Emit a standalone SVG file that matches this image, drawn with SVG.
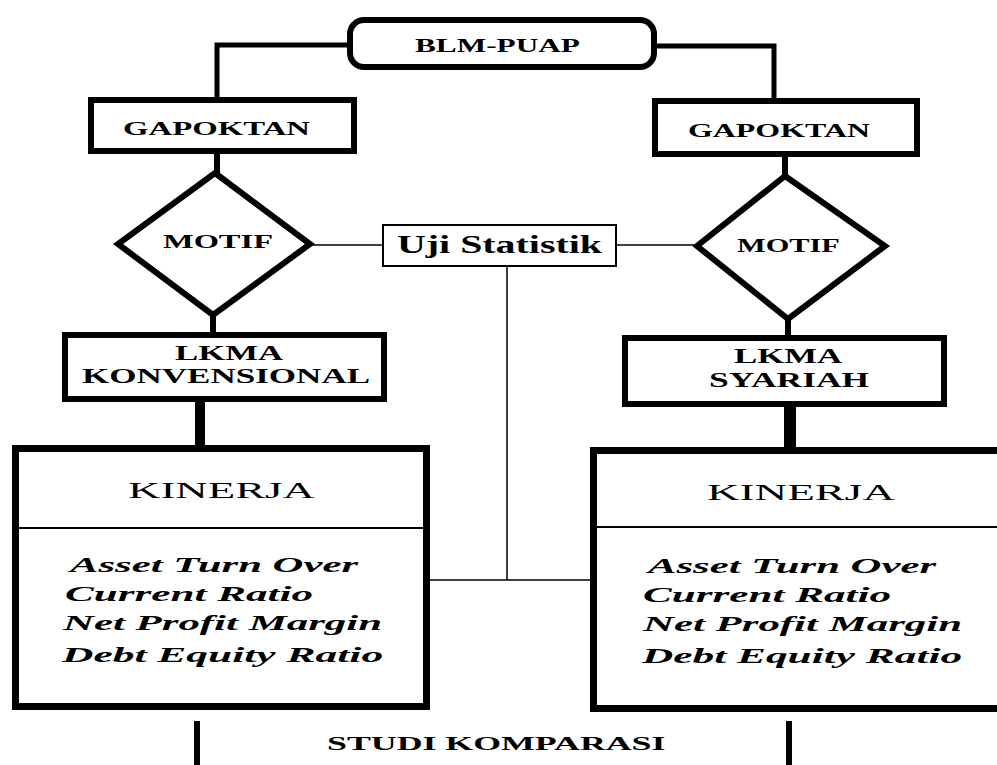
<svg xmlns="http://www.w3.org/2000/svg" width="997" height="765" viewBox="0 0 997 765">
<style>
.bx{fill:#fff;stroke:#000;stroke-width:6}
.thin{fill:#fff;stroke:#000;stroke-width:2}
.c{fill:none;stroke:#000;stroke-width:5}
.ct{fill:none;stroke:#000;stroke-width:1.5}
.t{font-family:"Liberation Serif","Times New Roman",serif;fill:#000}
.b{font-weight:bold}
.i{font-style:italic;font-weight:bold}
</style>
<rect width="997" height="765" fill="#fff"/>
<g id="connectors">
<path class="c" d="M350 45 H217 V100"/>
<path class="c" d="M654 46 H774 V101"/>
<path class="c" style="stroke-width:6" d="M217 150 V173"/>
<path class="c" style="stroke-width:6" d="M213 314 V335"/>
<path class="c" style="stroke-width:6" d="M785 154 V177"/>
<path class="c" style="stroke-width:6" d="M788 318 V338"/>
<path class="c" style="stroke-width:10" d="M200 399 V445"/>
<path class="c" style="stroke-width:12" d="M790 404 V447"/>
<path class="ct" d="M310 245 H383"/>
<path class="ct" d="M616 245 H697"/>
<path class="ct" d="M507 266 V580"/>
<path class="ct" d="M427 580 H593"/>
<path class="c" style="stroke-width:6" d="M197 721 V765"/>
<path class="c" style="stroke-width:6" d="M789 721 V765"/>
</g>
<g id="blm">
<rect class="bx" x="350" y="20" width="304" height="47" rx="14"/>
<text class="t b" transform="translate(415,52) scale(1.74,1)" font-size="18" textLength="94.8" lengthAdjust="spacingAndGlyphs">BLM-PUAP</text>
</g>
<g id="gapoktan-left">
<rect class="bx" x="91" y="100" width="263" height="51"/>
<text class="t b" transform="translate(123,135) scale(1.8,1)" font-size="18" textLength="103.9" lengthAdjust="spacingAndGlyphs">GAPOKTAN</text>
</g>
<g id="gapoktan-right">
<rect class="bx" x="655" y="101" width="262" height="53"/>
<text class="t b" transform="translate(688,137) scale(1.75,1)" font-size="18" textLength="104" lengthAdjust="spacingAndGlyphs">GAPOKTAN</text>
</g>
<g id="motif-left">
<polygon class="bx" points="215,173 310,244 213,315 118,244"/>
<text class="t b" transform="translate(163,248) scale(1.8,1)" font-size="18" textLength="61.1" lengthAdjust="spacingAndGlyphs">MOTIF</text>
</g>
<g id="motif-right">
<polygon class="bx" points="785,176 885,246 788,319 697,246"/>
<text class="t b" transform="translate(737,252) scale(1.69,1)" font-size="18" textLength="60.9" lengthAdjust="spacingAndGlyphs">MOTIF</text>
</g>
<g id="uji">
<rect class="thin" x="383" y="225" width="233" height="41"/>
<text class="t b" transform="translate(397,253) scale(1.53,1)" font-size="26" textLength="134" lengthAdjust="spacingAndGlyphs">Uji Statistik</text>
</g>
<g id="lkma-left">
<rect class="bx" x="65" y="335" width="319" height="64"/>
<text class="t b" transform="translate(175,360) scale(1.65,1)" font-size="21" textLength="65.5" lengthAdjust="spacingAndGlyphs">LKMA</text>
<text class="t b" transform="translate(82,383) scale(1.67,1)" font-size="21" textLength="172.5" lengthAdjust="spacingAndGlyphs">KONVENSIONAL</text>
</g>
<g id="lkma-right">
<rect class="bx" x="625" y="338" width="319" height="66"/>
<text class="t b" transform="translate(734,363) scale(1.65,1)" font-size="21" textLength="65.5" lengthAdjust="spacingAndGlyphs">LKMA</text>
<text class="t b" transform="translate(709,387) scale(1.65,1)" font-size="21" textLength="97" lengthAdjust="spacingAndGlyphs">SYARIAH</text>
</g>
<g id="kinerja-left">
<rect class="bx" style="stroke-width:7" x="15.5" y="448.5" width="411" height="258"/>
<line x1="15" y1="528" x2="427" y2="528" stroke="#000" stroke-width="2"/>
<text class="t" transform="translate(128,498) scale(1.87,1)" font-size="24" textLength="100" lengthAdjust="spacingAndGlyphs">KINERJA</text>
<text class="t i" transform="translate(70,572) scale(2.05,1)" font-size="22" textLength="140.5" lengthAdjust="spacingAndGlyphs">Asset Turn Over</text>
<text class="t i" transform="translate(65,601) scale(1.96,1)" font-size="22" textLength="126.5" lengthAdjust="spacingAndGlyphs">Current Ratio</text>
<text class="t i" transform="translate(63,630) scale(1.95,1)" font-size="22" textLength="163.6" lengthAdjust="spacingAndGlyphs">Net Profit Margin</text>
<text class="t i" transform="translate(62,662) scale(1.97,1)" font-size="22" textLength="163" lengthAdjust="spacingAndGlyphs">Debt Equity Ratio</text>
</g>
<g id="kinerja-right">
<rect class="bx" style="stroke-width:7" x="593.5" y="450.5" width="420" height="258"/>
<line x1="593" y1="527" x2="997" y2="527" stroke="#000" stroke-width="2"/>
<text class="t" transform="translate(707,500) scale(1.88,1)" font-size="24" textLength="100" lengthAdjust="spacingAndGlyphs">KINERJA</text>
<text class="t i" transform="translate(648,573) scale(2.05,1)" font-size="22" textLength="140.5" lengthAdjust="spacingAndGlyphs">Asset Turn Over</text>
<text class="t i" transform="translate(643,602) scale(1.96,1)" font-size="22" textLength="126.5" lengthAdjust="spacingAndGlyphs">Current Ratio</text>
<text class="t i" transform="translate(643,631) scale(1.95,1)" font-size="22" textLength="163.6" lengthAdjust="spacingAndGlyphs">Net Profit Margin</text>
<text class="t i" transform="translate(642,663) scale(1.97,1)" font-size="22" textLength="162.5" lengthAdjust="spacingAndGlyphs">Debt Equity Ratio</text>
</g>
<g id="studi">
<text class="t b" transform="translate(327,750) scale(1.87,1)" font-size="19" textLength="181" lengthAdjust="spacingAndGlyphs">STUDI KOMPARASI</text>
</g>
</svg>
